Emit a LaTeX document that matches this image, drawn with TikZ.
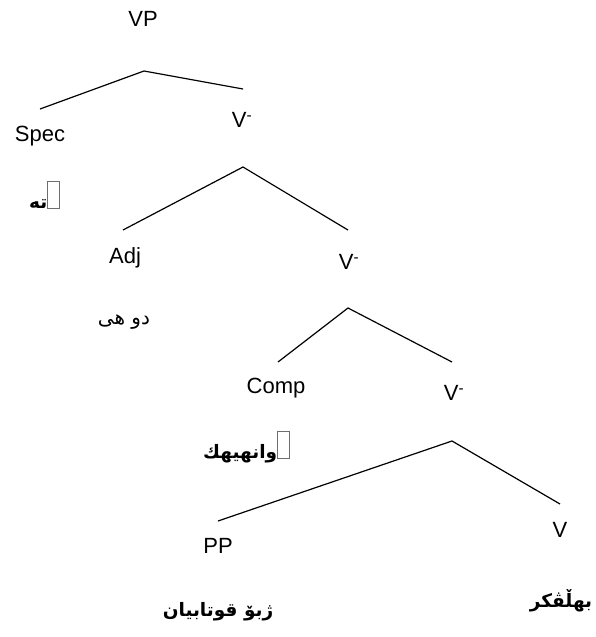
\documentclass[tikz,border=0pt]{standalone}
\usepackage{fontspec}
\setmainfont{Liberation Sans}
\newfontfamily\arabicfont[Script=Arabic]{DejaVu Sans}
\TeXXeTstate=1
\definecolor{tofugray}{RGB}{110,110,110}
\newcommand{\tofubox}{\textcolor{tofugray}{\fboxsep=0pt\fboxrule=0.6pt\fbox{\rule{0pt}{27pt}\hspace{11pt}}}}
\begin{document}
\begin{tikzpicture}[x=1pt,y=-1pt,
  lab/.style={inner sep=0pt,font=\fontsize{22}{24}\selectfont},
  arab/.style={inner sep=0pt,font=\arabicfont\fontsize{20}{22}\selectfont},
  arabb/.style={inner sep=0pt,font=\arabicfont\bfseries\fontsize{18.5}{21}\selectfont},
  branch/.style={line width=1.2pt}]
\useasboundingbox (0,0) rectangle (595,637);
% labels
\node[lab] (vp) at (143,19) {VP};
\node[lab] (spec) at (40,136) {Spec};
\node[lab] (v1) at (242,120) {V\textsuperscript{-}};
\node[arabb,anchor=south west] (w1) at (29,209) {{\beginR ته\endR}\tofubox};
\node[lab] (adj) at (125,258) {Adj};
\node[lab] (v2) at (349,262) {V\textsuperscript{-}};
\node[arab] (w2) at (124,322) {\beginR دو هی\endR};
\node[lab] (comp) at (276,388) {Comp};
\node[lab] (v3) at (454,393) {V\textsuperscript{-}};
\node[arabb,anchor=south west] (w3) at (203,463) {{\beginR وانهیهك\endR}\tofubox};
\node[lab] (v4) at (560,530) {V};
\node[lab] (pp) at (218,546) {PP};
\node[arabb] (w4) at (218,612) {\beginR ژبۆ قوتابیان\endR};
\node[arabb] (w5) at (561,601) {\beginR بهڵڤكر\endR};
% branch points
\coordinate (a1) at (144,71);
\coordinate (l1) at (40,109);
\coordinate (r1) at (243,89);
\coordinate (a2) at (243,167);
\coordinate (l2) at (123,230);
\coordinate (r2) at (348,230);
\coordinate (a3) at (348,308);
\coordinate (l3) at (278,362);
\coordinate (r3) at (452,362);
\coordinate (a4) at (452,441);
\coordinate (l4) at (218,521);
\coordinate (r4) at (560,504);
\draw[branch] (l1) -- (a1) -- (r1);
\draw[branch] (l2) -- (a2) -- (r2);
\draw[branch] (l3) -- (a3) -- (r3);
\draw[branch] (l4) -- (a4) -- (r4);
\end{tikzpicture}
\end{document}
